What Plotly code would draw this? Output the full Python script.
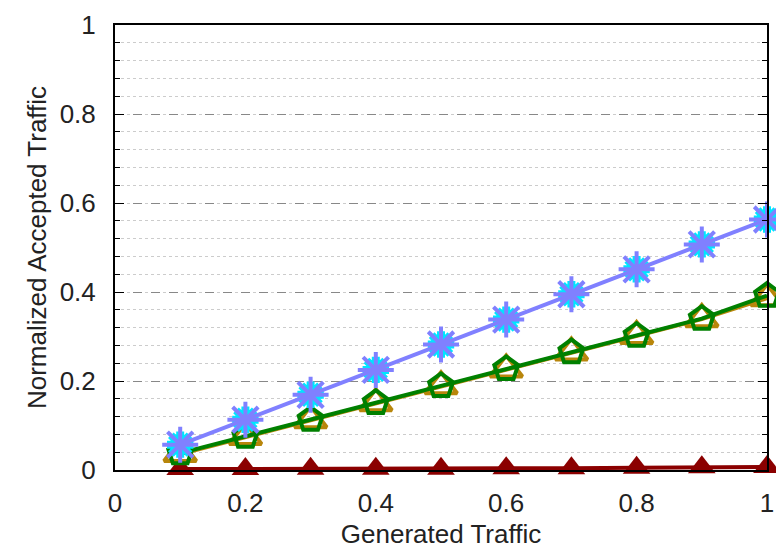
import plotly.graph_objects as go

x_vals = [0.1, 0.2, 0.3, 0.4, 0.5, 0.6, 0.7, 0.8, 0.9, 1.0]
blue_vals = [0.057, 0.113, 0.169, 0.225, 0.282, 0.338, 0.395, 0.451, 0.507, 0.563]
brown_vals = [0.036, 0.074, 0.112, 0.150, 0.188, 0.226, 0.264, 0.301, 0.339, 0.386]
green_vals = [0.038, 0.075, 0.113, 0.151, 0.189, 0.227, 0.265, 0.302, 0.340, 0.392]
red_vals = [0.002, 0.002, 0.003, 0.003, 0.003, 0.004, 0.004, 0.005, 0.006, 0.007]

x_ticks = [0, 0.2, 0.4, 0.6, 0.8, 1]
x_labels = ["0", "0.2", "0.4", "0.6", "0.8", "1"]
y_ticks = [0, 0.2, 0.4, 0.6, 0.8, 1]
y_labels = ["0", "0.2", "0.4", "0.6", "0.8", "1"]

fig = go.Figure()

# dark red filled triangles
fig.add_trace(go.Scatter(x=x_vals, y=red_vals, mode="lines+markers",
    line=dict(color="#8b0000", width=4),
    marker=dict(symbol="triangle-up", size=24, color="#8b0000"),
    cliponaxis=False, showlegend=False))

# brown open triangles
fig.add_trace(go.Scatter(x=x_vals, y=brown_vals, mode="lines+markers",
    line=dict(color="#b8860b", width=4),
    marker=dict(symbol="triangle-up-open", size=28, color="#b8860b", line=dict(width=4, color="#b8860b")),
    cliponaxis=False, showlegend=False))

# green open pentagons
fig.add_trace(go.Scatter(x=x_vals, y=green_vals, mode="lines+markers",
    line=dict(color="#008000", width=4),
    marker=dict(symbol="pentagon-open", size=25, color="#008000", line=dict(width=4, color="#008000")),
    cliponaxis=False, showlegend=False))

# cyan under-layer for stars
fig.add_trace(go.Scatter(x=x_vals, y=blue_vals, mode="markers",
    marker=dict(symbol="asterisk-open", size=22, color="#00e5ff", line=dict(width=8, color="#00e5ff")),
    cliponaxis=False, showlegend=False))

# blue asterisks
fig.add_trace(go.Scatter(x=x_vals, y=blue_vals, mode="lines+markers",
    line=dict(color="#8080ff", width=4),
    marker=dict(symbol="asterisk-open", size=30, color="#8080ff", line=dict(width=4, color="#8080ff")),
    cliponaxis=False, showlegend=False))

fig.update_layout(
    width=776, height=549,
    margin=dict(l=115, r=9, t=25, b=79),
    paper_bgcolor="white", plot_bgcolor="white",
    font=dict(family="Liberation Sans, Arial, sans-serif", size=26, color="#222222"),
    xaxis=dict(range=[0, 1], tickvals=x_ticks, ticktext=x_labels, automargin=False,
               showgrid=False, zeroline=False, showline=True, linecolor="black", linewidth=2,
               mirror=True, ticks="", tickfont=dict(size=26), ticklabelstandoff=9,
               title=dict(text="Generated Traffic", font=dict(size=26), standoff=12)),
    yaxis=dict(range=[0, 1], tickvals=y_ticks, ticktext=y_labels, automargin=False,
               showgrid=True, gridcolor="#888888", griddash="dash", gridwidth=1,
               zeroline=False, showline=True, linecolor="black", linewidth=2,
               mirror="ticks", ticks="inside", ticklen=9, tickcolor="black", tickwidth=1,
               tickfont=dict(size=26), ticklabelstandoff=12,
               minor=dict(dtick=0.04, tick0=0, ticks="inside", ticklen=5, tickcolor="black",
                          showgrid=True, gridcolor="#cccccc", griddash="dot", gridwidth=1),
               title=dict(text="Normalized Accepted Traffic", font=dict(size=26), standoff=6)),
)

fig.write_html("out.html")
